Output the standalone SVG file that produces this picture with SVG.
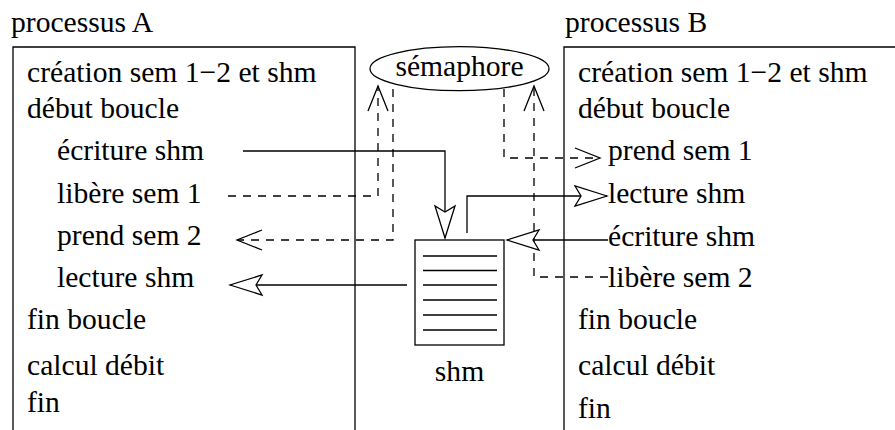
<svg xmlns="http://www.w3.org/2000/svg" width="895" height="430" viewBox="0 0 895 430" font-family="Liberation Serif, Times New Roman, DejaVu Serif, serif">
  <style>
    text { font-family: "Liberation Serif", "Times New Roman", "DejaVu Serif", serif; font-size: 29.6px; fill: #000; }
    .frame { fill: none; stroke: #000; stroke-width: 1.3; }
    .solid { fill: none; stroke: #000; stroke-width: 1.3; }
    .dashed { fill: none; stroke: #000; stroke-width: 1.3; stroke-dasharray: 8 7; }
    .mid { text-anchor: middle; }
  </style>
  <defs>
    <!-- hollow barbed head for data transfers -->
    <marker id="barb" markerUnits="userSpaceOnUse" viewBox="-35 -12 37 24" markerWidth="37" markerHeight="24" refX="0" refY="0" orient="auto">
      <path d="M0,0 L-32,-10 L-26,0 L-32,10 Z" fill="#fff" stroke="#000" stroke-width="1.3" stroke-dasharray="none"/>
    </marker>
    <!-- open V head for semaphore operations -->
    <marker id="vee" markerUnits="userSpaceOnUse" viewBox="-28 -12 30 24" markerWidth="30" markerHeight="24" refX="0" refY="0" orient="auto">
      <path d="M-25,-10 L0,0 L-25,10" fill="none" stroke="#000" stroke-width="1.3" stroke-dasharray="none"/>
    </marker>
  </defs>

  <rect width="895" height="430" fill="#fff"/>

  <!-- process A -->
  <g id="procA">
    <text x="11" y="32">processus A</text>
    <path class="frame" d="M13,432 V47 H355 V432"/>
    <text x="27" y="82">création sem 1−2 et shm</text>
    <text x="27" y="118">début boucle</text>
    <text x="57" y="160">écriture shm</text>
    <text x="57" y="203">libère sem 1</text>
    <text x="57" y="245">prend sem 2</text>
    <text x="57" y="287">lecture shm</text>
    <text x="27" y="329">fin boucle</text>
    <text x="27" y="375">calcul débit</text>
    <text x="27" y="412">fin</text>
  </g>

  <!-- process B -->
  <g id="procB">
    <text x="565" y="32">processus B</text>
    <path class="frame" d="M564,432 V47 H900"/>
    <text x="578" y="82">création sem 1−2 et shm</text>
    <text x="578" y="118">début boucle</text>
    <text x="608" y="160">prend sem 1</text>
    <text x="608" y="203">lecture shm</text>
    <text x="608" y="246">écriture shm</text>
    <text x="608" y="287">libère sem 2</text>
    <text x="578" y="329">fin boucle</text>
    <text x="578" y="375">calcul débit</text>
    <text x="578" y="418">fin</text>
  </g>

  <!-- semaphore -->
  <g id="semaphore">
    <ellipse class="frame" cx="459.5" cy="68.7" rx="89.5" ry="22"/>
    <text class="mid" x="459.5" y="76">sémaphore</text>
  </g>

  <!-- shared memory segment -->
  <g id="shm">
    <rect class="frame" x="415" y="240" width="89" height="105"/>
    <path class="solid" d="M423,256 H497 M423,270.5 H497 M423,285 H497 M423,300 H497 M423,315 H497 M423,330 H497"/>
    <text class="mid" x="459.5" y="381">shm</text>
  </g>

  <g id="connectors">
    <!-- semaphore operations -->
    <path class="dashed" d="M228,196 H378 V86" marker-end="url(#vee)"/>
    <path class="dashed" d="M393,89 V240 H237" marker-end="url(#vee)"/>
    <path class="dashed" d="M504,89 V158 H600" marker-end="url(#vee)"/>
    <path class="dashed" d="M608,277 H534 V86" marker-end="url(#vee)"/>
    <!-- shared memory accesses -->
    <path class="solid" d="M243,151 H445 V238" marker-end="url(#barb)"/>
    <path class="solid" d="M467,233 V196 H607" marker-end="url(#barb)"/>
    <path class="solid" d="M608,240 H507" marker-end="url(#barb)"/>
    <path class="solid" d="M407,285 H230" marker-end="url(#barb)"/>
  </g>
</svg>
